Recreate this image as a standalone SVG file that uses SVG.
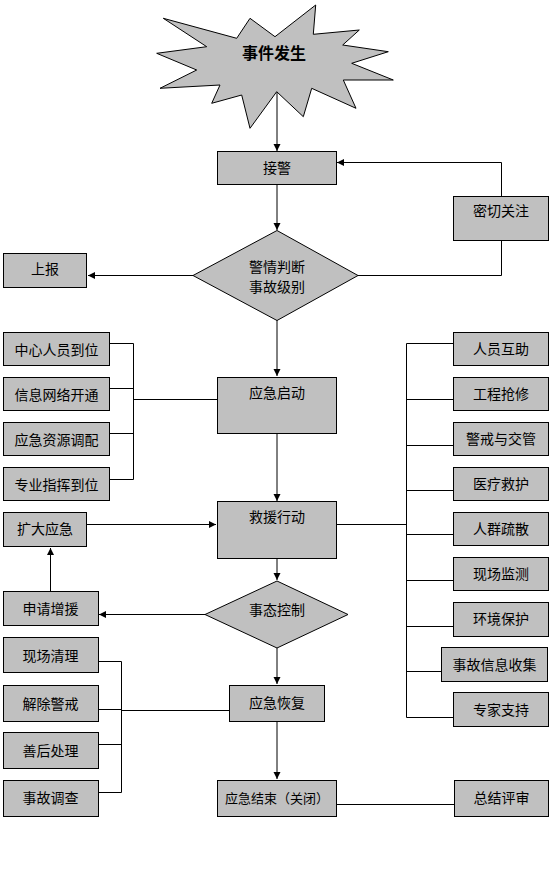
<svg xmlns="http://www.w3.org/2000/svg" width="551" height="874" viewBox="0 0 551 874">
<style>
.b{fill:#C0C0C0;stroke:#000;stroke-width:1}
.t{font-family:"Noto Sans CJK SC","Liberation Sans",sans-serif;font-size:14px;fill:#000;text-anchor:middle;dominant-baseline:central}
.c{fill:none;stroke:#000;stroke-width:1}
</style>
<defs>
<marker id="ah" markerUnits="userSpaceOnUse" markerWidth="8" markerHeight="8" refX="7" refY="4" orient="auto">
<path d="M0,0.5 L7,4 L0,7.5 z" fill="#000"/>
</marker>
</defs>
<rect width="551" height="874" fill="#fff"/>
<g id="connectors">
<path class="c" d="M277,92 V151" marker-end="url(#ah)"/>
<path class="c" d="M277,185 V230" marker-end="url(#ah)"/>
<path class="c" d="M193,275.5 H88" marker-end="url(#ah)"/>
<path class="c" d="M358,275.5 H501.5 V241"/>
<path class="c" d="M501.5,197 V162.5 H337" marker-end="url(#ah)"/>
<path class="c" d="M277,320 V376" marker-end="url(#ah)"/>
<path class="c" d="M110,343.5 H133.5 M110,388.5 H133.5 M110,433.5 H133.5 M110,479.5 H133.5 M133.5,343.5 V479.5 M133.5,399.5 H217"/>
<path class="c" d="M277,433 V501" marker-end="url(#ah)"/>
<path class="c" d="M336,524.5 H406.5 M406.5,343.5 V717.5 M406.5,343.5 H453 M406.5,399.5 H453 M406.5,445.5 H453 M406.5,490.5 H453 M406.5,534.5 H453 M406.5,580.5 H453 M406.5,626.5 H453 M406.5,671.5 H442 M406.5,717.5 H453"/>
<path class="c" d="M87,524.5 H216" marker-end="url(#ah)"/>
<path class="c" d="M50.5,591 V548" marker-end="url(#ah)"/>
<path class="c" d="M277,558 V580" marker-end="url(#ah)"/>
<path class="c" d="M205,614.5 H99" marker-end="url(#ah)"/>
<path class="c" d="M277,648 V684" marker-end="url(#ah)"/>
<path class="c" d="M98,661.5 H121.5 M98,709.5 H121.5 M98,744.5 H121.5 M98,792.5 H121.5 M121.5,661.5 V792.5 M121.5,710.5 H229"/>
<path class="c" d="M277,721 V779" marker-end="url(#ah)"/>
<path class="c" d="M336,804.5 H455"/>
</g>
<g id="n-event">
<polygon class="b" points="315.7,5 313.3,34.3 359.3,30 342.7,45 388.3,51.7 351.7,63.3 393.3,80 343.3,80 356,108.3 311.7,88.3 303.3,116.7 276.7,91.7 250,128.3 241.7,95 211.7,103.3 220,85 160,88.3 196.7,70 156.7,53.3 206.7,46.7 163.3,18.3 236.7,38.3 250,18.3 275,36.7"/>
<text class="t" x="274" y="52" style="font-size:16px;font-weight:bold">事件发生</text>
</g>
<g id="n-jiejing"><rect class="b" x="217.5" y="151.5" width="119" height="33"/><text class="t" x="277" y="167">接警</text></g>
<g id="n-miqie"><rect class="b" x="453.5" y="196.5" width="95" height="44"/><text class="t" x="501" y="210">密切关注</text></g>
<g id="n-panduan"><polygon class="b" points="193,275.5 277,230.5 358,275.5 277,320.5"/><text class="t" x="277" y="266">警情判断</text><text class="t" x="277" y="286">事故级别</text></g>
<g id="n-shangbao"><rect class="b" x="3.5" y="253.5" width="83" height="34"/><text class="t" x="45" y="268">上报</text></g>
<g id="n-l1"><rect class="b" x="3.5" y="332.5" width="106" height="33"/><text class="t" x="56.5" y="348.5">中心人员到位</text></g>
<g id="n-l2"><rect class="b" x="3.5" y="377.5" width="106" height="33"/><text class="t" x="56.5" y="393.5">信息网络开通</text></g>
<g id="n-l3"><rect class="b" x="3.5" y="422.5" width="106" height="33"/><text class="t" x="56.5" y="438.5">应急资源调配</text></g>
<g id="n-l4"><rect class="b" x="3.5" y="467.5" width="106" height="33"/><text class="t" x="56.5" y="483.5">专业指挥到位</text></g>
<g id="n-qidong"><rect class="b" x="217.5" y="377.5" width="119" height="56"/><text class="t" x="277" y="392">应急启动</text></g>
<g id="n-jiuyuan"><rect class="b" x="217.5" y="501.5" width="119" height="57"/><text class="t" x="277" y="516">救援行动</text></g>
<g id="n-kuoda"><rect class="b" x="3.5" y="512.5" width="83" height="34"/><text class="t" x="45" y="528">扩大应急</text></g>
<g id="n-shenqing"><rect class="b" x="3.5" y="591.5" width="95" height="34"/><text class="t" x="50.5" y="607.5">申请增援</text></g>
<g id="n-kongzhi"><polygon class="b" points="205,614.5 277,581 348,614.5 277,648"/><text class="t" x="277" y="609">事态控制</text></g>
<g id="n-r1"><rect class="b" x="453.5" y="332.5" width="95" height="33"/><text class="t" x="501" y="348">人员互助</text></g>
<g id="n-r2"><rect class="b" x="453.5" y="377.5" width="95" height="33"/><text class="t" x="501" y="393">工程抢修</text></g>
<g id="n-r3"><rect class="b" x="453.5" y="422.5" width="95" height="33"/><text class="t" x="501" y="438">警戒与交管</text></g>
<g id="n-r4"><rect class="b" x="453.5" y="467.5" width="95" height="33"/><text class="t" x="501" y="483">医疗救护</text></g>
<g id="n-r5"><rect class="b" x="453.5" y="512.5" width="95" height="33"/><text class="t" x="501" y="528">人群疏散</text></g>
<g id="n-r6"><rect class="b" x="453.5" y="557.5" width="95" height="33"/><text class="t" x="501" y="573">现场监测</text></g>
<g id="n-r7"><rect class="b" x="453.5" y="602.5" width="95" height="34"/><text class="t" x="501" y="618">环境保护</text></g>
<g id="n-r8"><rect class="b" x="441.5" y="647.5" width="106" height="34"/><text class="t" x="494.5" y="663.5">事故信息收集</text></g>
<g id="n-r9"><rect class="b" x="453.5" y="692.5" width="95" height="34"/><text class="t" x="501" y="708.5">专家支持</text></g>
<g id="n-b1"><rect class="b" x="3.5" y="637.5" width="95" height="35"/><text class="t" x="50.5" y="654.5">现场清理</text></g>
<g id="n-b2"><rect class="b" x="3.5" y="685.5" width="95" height="36"/><text class="t" x="50.5" y="702.5">解除警戒</text></g>
<g id="n-b3"><rect class="b" x="3.5" y="732.5" width="95" height="36"/><text class="t" x="50.5" y="750">善后处理</text></g>
<g id="n-b4"><rect class="b" x="3.5" y="780.5" width="95" height="36"/><text class="t" x="50.5" y="797">事故调查</text></g>
<g id="n-huifu"><rect class="b" x="229.5" y="685.5" width="95" height="36"/><text class="t" x="277" y="702">应急恢复</text></g>
<g id="n-jieshu"><rect class="b" x="217.5" y="780.5" width="119" height="36"/><text class="t" x="277" y="797" style="font-size:13px">应急结束（关闭）</text></g>
<g id="n-zongjie"><rect class="b" x="454.5" y="780.5" width="94" height="36"/><text class="t" x="501.5" y="797">总结评审</text></g>
</svg>
